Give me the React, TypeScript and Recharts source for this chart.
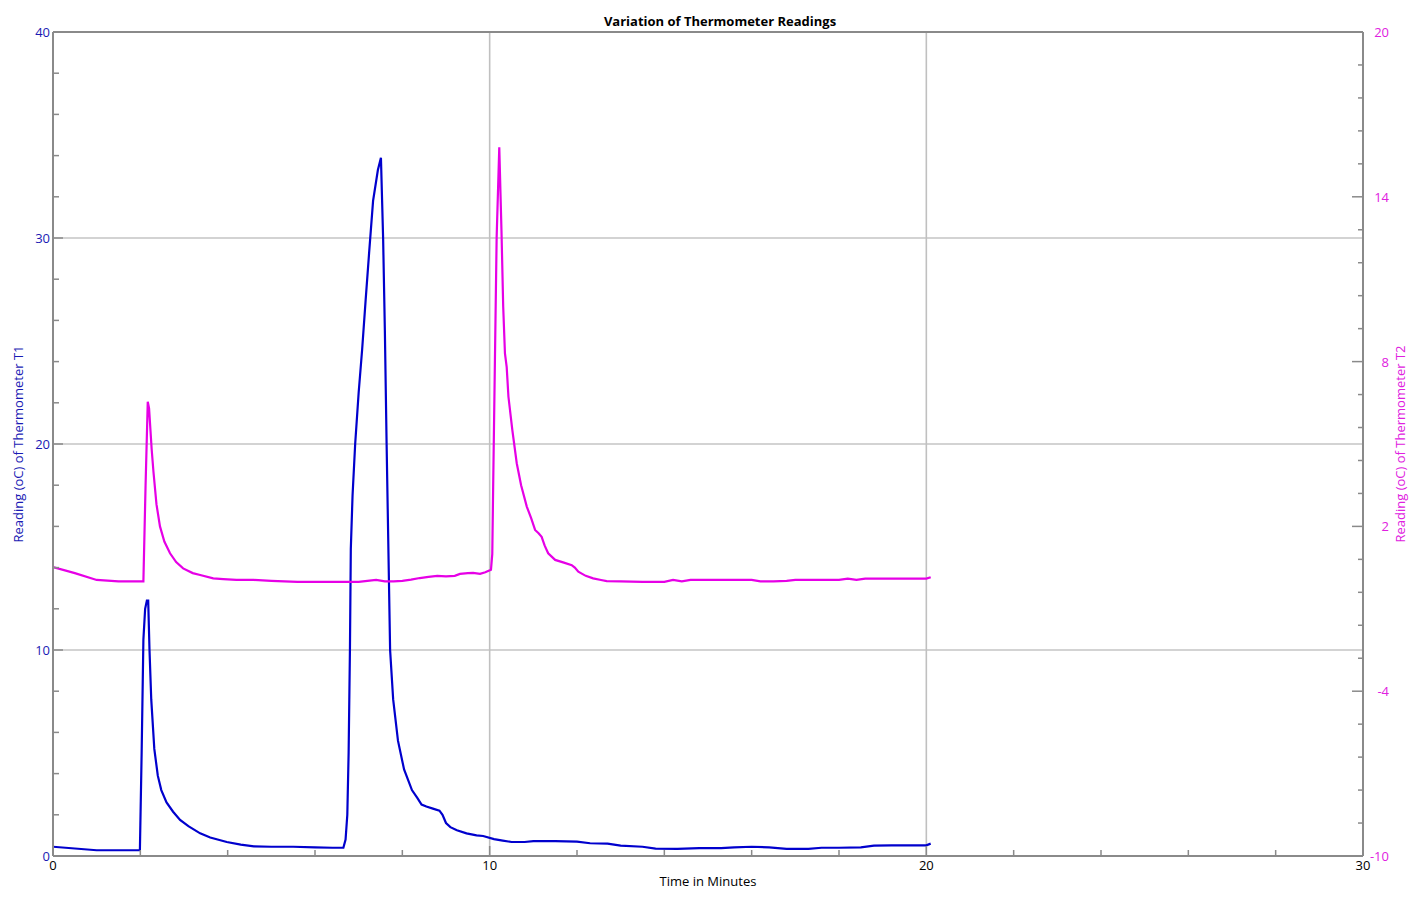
import React from 'react';
import { LineChart, Line, XAxis, YAxis, CartesianGrid, ReferenceLine } from 'recharts';

// ---------- data ----------
const t1Times = [
  0, 1.0, 1.99, 2.03, 2.07, 2.11, 2.15, 2.18, 2.21, 2.25, 2.32, 2.4, 2.48, 2.6, 2.75, 2.91,
  3.1, 3.37, 3.6, 3.98, 4.3, 4.6, 5.0, 5.5, 6.0, 6.4, 6.65, 6.7, 6.74, 6.77, 6.8, 6.82,
  6.86, 6.92, 7.0, 7.08, 7.16, 7.24, 7.33, 7.44, 7.51, 7.56, 7.6, 7.64, 7.72, 7.79, 7.9,
  8.04, 8.22, 8.35, 8.44, 8.55, 8.7, 8.85, 8.92, 9.0, 9.1, 9.25, 9.47, 9.7, 9.85, 10.1,
  10.3, 10.5, 10.8, 11.0, 11.5, 12.0, 12.3, 12.7, 13.0, 13.5, 13.8, 14.3, 14.8, 15.3,
  15.6, 16.0, 16.4, 16.8, 17.3, 17.6, 18.0, 18.5, 18.8, 19.2, 19.7, 20.0, 20.1,
];
const t1Readings = [
  0.45, 0.28, 0.28, 5.0, 10.5, 12.0, 12.4, 12.4, 10.0, 7.6, 5.2, 3.9, 3.2, 2.6, 2.15, 1.75,
  1.45, 1.1, 0.9, 0.68, 0.55, 0.47, 0.45, 0.45, 0.42, 0.4, 0.4, 0.8, 2.0, 5.0, 10.0, 14.9,
  17.5, 20.0, 22.5, 24.6, 27.0, 29.3, 31.8, 33.3, 33.9, 30.0, 25.5, 20.0, 10.0, 7.6, 5.6,
  4.2, 3.2, 2.8, 2.5, 2.4, 2.3, 2.2, 2.0, 1.6, 1.4, 1.25, 1.1, 1.0, 0.97, 0.82,
  0.75, 0.68, 0.68, 0.72, 0.72, 0.7, 0.62, 0.6, 0.5, 0.45, 0.36, 0.35, 0.38, 0.38,
  0.42, 0.45, 0.42, 0.35, 0.35, 0.4, 0.4, 0.42, 0.5, 0.52, 0.52, 0.52, 0.6,
];

const t2Times = [
  0, 0.5, 1.0, 1.5, 2.0, 2.07, 2.12, 2.17, 2.2, 2.22, 2.26, 2.3, 2.37, 2.45, 2.55, 2.68,
  2.82, 2.98, 3.2, 3.37, 3.67, 3.9, 4.2, 4.6, 5.0, 5.3, 5.6, 6.0, 6.5, 7.0, 7.2, 7.4, 7.6,
  7.8, 8.0, 8.2, 8.4, 8.6, 8.8, 9.0, 9.2, 9.32, 9.5, 9.62, 9.78, 9.9, 10.03, 10.06, 10.08,
  10.12, 10.16, 10.22, 10.27, 10.31, 10.35, 10.39, 10.43, 10.52, 10.62, 10.72, 10.85,
  10.95, 11.04, 11.12, 11.19, 11.26, 11.34, 11.5, 11.7, 11.88, 11.95, 12.03, 12.2, 12.37,
  12.55, 12.68, 13.0, 13.5, 14.0, 14.2, 14.4, 14.6, 15.0, 15.5, 16.0, 16.2, 16.5, 16.8,
  17.0, 17.5, 18.0, 18.2, 18.4, 18.6, 19.0, 19.5, 20.0, 20.1,
];
const t2Readings = [
  0.52, 0.3, 0.05, 0.0, 0.0, 0.0, 3.5, 6.54, 6.3, 5.8, 4.8, 4.0, 2.8, 2.0, 1.45, 1.02,
  0.7, 0.47, 0.3, 0.23, 0.11, 0.08, 0.05, 0.05, 0.02, 0.0, -0.02, -0.02, -0.02, -0.02, 0.02, 0.05, 0.0,
  0.0, 0.02, 0.06, 0.12, 0.16, 0.2, 0.18, 0.2, 0.27, 0.3, 0.31, 0.27, 0.33, 0.42, 1.0, 3.44,
  8.0, 12.54, 15.8, 12.8, 10.0, 8.3, 7.8, 6.72, 5.5, 4.3, 3.5, 2.72,
  2.3, 1.87, 1.75, 1.62, 1.3, 1.02, 0.78, 0.68, 0.59, 0.5, 0.35, 0.2, 0.11,
  0.05, 0.01, 0.0, -0.02, -0.02, 0.05, 0.0, 0.05, 0.05, 0.05, 0.05, 0.0, 0.0, 0.02,
  0.05, 0.05, 0.05, 0.1, 0.05, 0.1, 0.1, 0.1, 0.1, 0.15,
];

const xTicks = [0, 2, 4, 6, 8, 10, 12, 14, 16, 18, 20, 22, 24, 26, 28, 30];
const xMajor = [0, 10, 20, 30];
const leftTicks = [0, 2, 4, 6, 8, 10, 12, 14, 16, 18, 20, 22, 24, 26, 28, 30, 32, 34, 36, 38, 40];
const leftMajor = [0, 10, 20, 30, 40];
const rightTicks = [
  -10, -8.8, -7.6, -6.4, -5.2, -4, -2.8, -1.6, -0.4, 0.8, 2, 3.2, 4.4, 5.6, 6.8, 8,
  9.2, 10.4, 11.6, 12.8, 14, 15.2, 16.4, 17.6, 18.8, 20,
];
const rightMajor = [-10, -4, 2, 8, 14, 20];
const hGrid = [10, 20, 30];
const vGrid = [10, 20];

const t1Data = t1Times.map((t, i) => ({ t, v: t1Readings[i] }));
const t2Data = t2Times.map((t, i) => ({ t, v: t2Readings[i] }));

// ---------- styles ----------
const FONT = '"Open Sans", "Noto Sans", sans-serif';
const FS = 13;
const BLUE = '#0000cd';
const BLUE_TXT = '#1a1ab4';
const MAGENTA = '#e600e6';
const MAGENTA_TXT = '#e020e0';
const AXIS = '#8a8a8a';

const LeftTick = (props: any) => {
  const { x, y, payload } = props;
  const v = payload.value;
  const major = leftMajor.includes(v);
  return (
    <g>
      <line x1={x} x2={x + (major ? 10 : 6)} y1={y} y2={y} stroke={AXIS} strokeWidth={1.5} />
      {major && (
        <text x={x - 3} y={y + 5} textAnchor="end" fill={BLUE_TXT} fontSize={FS} fontFamily={FONT}>
          {v}
        </text>
      )}
    </g>
  );
};

const RightTick = (props: any) => {
  const { x, y, payload } = props;
  const v = payload.value;
  const major = rightMajor.some((m) => Math.abs(m - v) < 1e-6);
  return (
    <g>
      <line x1={x} x2={x - (major ? 11 : 5)} y1={y} y2={y} stroke={AXIS} strokeWidth={1.5} />
      {major && (
        <text x={x + 26} y={y + 5} textAnchor="end" fill={MAGENTA_TXT} fontSize={FS} fontFamily={FONT}>
          {v}
        </text>
      )}
    </g>
  );
};

const BottomTick = (props: any) => {
  const { x, y, payload } = props;
  const v = payload.value;
  const major = xMajor.includes(v);
  return (
    <g>
      <line x1={x} x2={x} y1={y} y2={y - (major ? 10 : 6)} stroke={AXIS} strokeWidth={1.5} />
      {major && (
        <text x={x} y={y + 14} textAnchor="middle" fill="#000" fontSize={FS} fontFamily={FONT}>
          {v}
        </text>
      )}
    </g>
  );
};

const leftTitle = (props: any) => {
  const { x, y, height } = props.viewBox;
  const cx = x + 10;
  const cy = y + height / 2;
  return (
    <text x={cx} y={cy} transform={`rotate(-90, ${cx}, ${cy})`} textAnchor="middle" dominantBaseline="central"
      fill={BLUE_TXT} fontSize={FS} fontFamily={FONT}>
      Reading (oC) of Thermometer T1
    </text>
  );
};

const rightTitle = (props: any) => {
  const { x, y, height } = props.viewBox;
  const cx = x + 37;
  const cy = y + height / 2;
  return (
    <text x={cx} y={cy} transform={`rotate(-90, ${cx}, ${cy})`} textAnchor="middle" dominantBaseline="central"
      fill={MAGENTA_TXT} fontSize={FS} fontFamily={FONT}>
      Reading (oC) of Thermometer T2
    </text>
  );
};

const bottomTitle = (props: any) => {
  const { x, y, width } = props.viewBox;
  return (
    <text x={x + width / 2} y={y + 30} textAnchor="middle" fill="#000" fontSize={FS} fontFamily={FONT}>
      Time in Minutes
    </text>
  );
};

export default function App() {
  return (
    <div style={{ position: 'relative', width: 1404, height: 888, fontFamily: FONT }}>
      <div
        style={{
          position: 'absolute', left: 0, top: 4, width: 1424, textAlign: 'center',
          fontSize: 13, fontWeight: 'bold', lineHeight: '18px', color: '#000', fontFamily: FONT,
        }}
      >
        Variation of Thermometer Readings
      </div>
      <LineChart width={1404} height={888} margin={{ top: 24, right: 0, bottom: 0, left: 0 }}>
        <CartesianGrid yAxisId="left" horizontalValues={hGrid} vertical={false} stroke="#a8a8a8" strokeWidth={1.2} />
        <CartesianGrid yAxisId="left" verticalValues={vGrid} horizontal={false} stroke="#c0c0c0" strokeWidth={1.6} />
        <XAxis
          type="number" dataKey="t" domain={[0, 30]} ticks={xTicks} interval={0}
          tickSize={0} tickMargin={0} tickLine={false} tick={<BottomTick />}
          axisLine={{ stroke: AXIS, strokeWidth: 2 }} height={40} allowDataOverflow
          label={{ content: bottomTitle }}
        />
        <YAxis
          yAxisId="left" orientation="left" type="number" domain={[0, 40]} ticks={leftTicks} interval={0}
          tickSize={0} tickMargin={0} tickLine={false} tick={<LeftTick />}
          axisLine={{ stroke: AXIS, strokeWidth: 2 }} width={45} allowDataOverflow
          label={{ content: leftTitle }}
        />
        <YAxis
          yAxisId="right" orientation="right" type="number" domain={[-10, 20]} ticks={rightTicks} interval={0}
          tickSize={0} tickMargin={0} tickLine={false} tick={<RightTick />}
          axisLine={{ stroke: AXIS, strokeWidth: 2 }} width={49} allowDataOverflow
          label={{ content: rightTitle }}
        />
        <ReferenceLine yAxisId="left" y={40} stroke={AXIS} strokeWidth={2} />
        <Line
          yAxisId="left" data={t1Data} dataKey="v" type="linear" stroke={BLUE} strokeWidth={2.2}
          dot={false} isAnimationActive={false}
        />
        <Line
          yAxisId="right" data={t2Data} dataKey="v" type="linear" stroke={MAGENTA} strokeWidth={2.2}
          dot={false} isAnimationActive={false}
        />
      </LineChart>
    </div>
  );
}
